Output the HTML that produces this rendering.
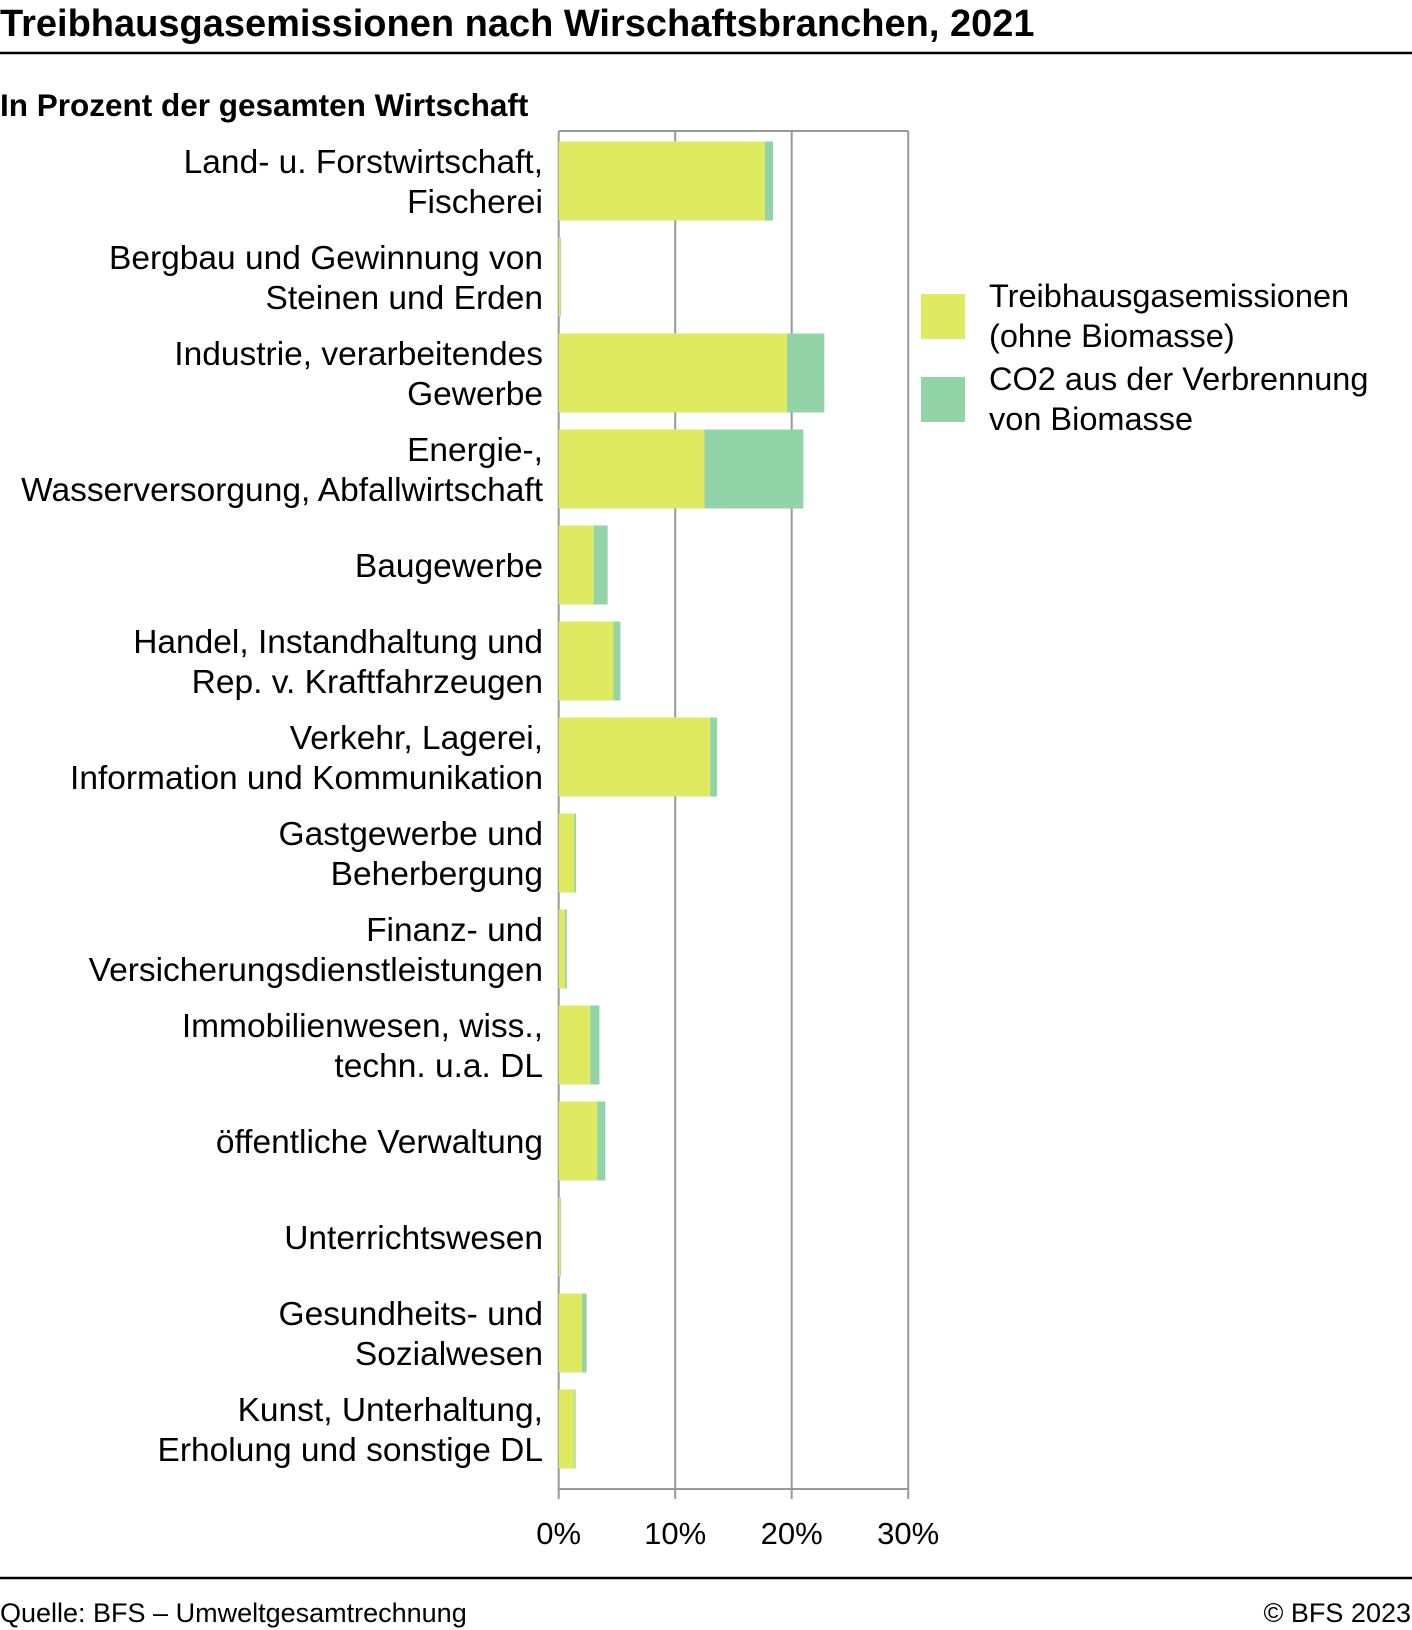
<!DOCTYPE html>
<html><head><meta charset="utf-8"><style>
body{margin:0;background:#fff}
svg{display:block;font-family:"Liberation Sans",sans-serif}
</style></head><body>
<svg id="chart" width="1412" height="1630" viewBox="0 0 1412 1630">
<text x="0" y="36" font-size="38" font-weight="bold" fill="#000">Treibhausgasemissionen nach Wirschaftsbranchen, 2021</text>
<line x1="0" y1="53" x2="1412" y2="53" stroke="#000" stroke-width="2.5"/>
<text x="0" y="116" font-size="31.5" font-weight="bold" fill="#000">In Prozent der gesamten Wirtschaft</text>
<g id="grid"></g><g id="bars"></g><g id="labels"></g>
<rect x="921" y="294" width="44" height="45" fill="#e0ea60"/>
<text x="989" y="307" font-size="32.5"><tspan x="989">Treibhausgasemissionen</tspan><tspan x="989" dy="40">(ohne Biomasse)</tspan></text>
<rect x="921" y="377" width="44" height="45" fill="#93d3a8"/>
<text x="989" y="390" font-size="32.5"><tspan x="989">CO2 aus der Verbrennung</tspan><tspan x="989" dy="40">von Biomasse</tspan></text>
<line x1="0" y1="1578" x2="1412" y2="1578" stroke="#000" stroke-width="2.5"/>
<text x="0" y="1622" font-size="27">Quelle: BFS – Umweltgesamtrechnung</text>
<text x="1411" y="1622" font-size="27" text-anchor="end">© BFS 2023</text>
</svg>
<script>
const categories=[["Land- u. Forstwirtschaft,","Fischerei"],["Bergbau und Gewinnung von","Steinen und Erden"],["Industrie, verarbeitendes","Gewerbe"],["Energie-,","Wasserversorgung, Abfallwirtschaft"],["Baugewerbe"],["Handel, Instandhaltung und","Rep. v. Kraftfahrzeugen"],["Verkehr, Lagerei,","Information und Kommunikation"],["Gastgewerbe und","Beherbergung"],["Finanz- und","Versicherungsdienstleistungen"],["Immobilienwesen, wiss.,","techn. u.a. DL"],["öffentliche Verwaltung"],["Unterrichtswesen"],["Gesundheits- und","Sozialwesen"],["Kunst, Unterhaltung,","Erholung und sonstige DL"]];
const ghg=[17.7,0.15,19.6,12.5,3.0,4.7,13.0,1.35,0.55,2.7,3.3,0.15,2.0,1.35];
const biomass=[0.7,0.05,3.2,8.5,1.2,0.6,0.6,0.15,0.15,0.8,0.7,0.05,0.4,0.1];
const ticks=[0,10,20,30];
const tickLabels=["0%","10%","20%","30%"];
(function(){
const NS="http://www.w3.org/2000/svg";
const x0=558.7,pxPer=11.65,plotTop=133,step=96,barH=79,plotBottom=1489;
const xs=v=>x0+v*pxPer;
const yc=i=>plotTop+step*i+step/2;
function mk(t,a,p){const e=document.createElementNS(NS,t);for(const k in a)e.setAttribute(k,a[k]);p.appendChild(e);return e;}
const grid=document.getElementById('grid'),bars=document.getElementById('bars'),labels=document.getElementById('labels');
ticks.forEach((t,i)=>{
 const l=mk('line',{x1:xs(t),x2:xs(t),y1:131,y2:plotBottom+10,stroke:'#999','stroke-width':2},grid);
 
 
 const tx=mk('text',{x:xs(t),y:1544,'font-size':31,'text-anchor':'middle'},grid);
 tx.textContent=tickLabels[i];
 
 
});
const tl=mk('line',{x1:x0,x2:xs(30),y1:131,y2:131,stroke:'#999','stroke-width':2},grid);


const bl=mk('line',{x1:x0,x2:xs(30),y1:plotBottom,y2:plotBottom,stroke:'#999','stroke-width':2},grid);


categories.forEach((c,i)=>{
 const y=yc(i)-barH/2;
 const r1=mk('rect',{x:xs(0),y:y,width:ghg[i]*pxPer,height:barH,fill:'#e0ea60'},bars);
 
 
 const r2=mk('rect',{x:xs(ghg[i]),y:y,width:biomass[i]*pxPer,height:barH,fill:'#93d3a8'},bars);
 
 
 const n=c.length;
 c.forEach((s,j)=>{
  const t=mk('text',{x:543,y:yc(i)+12+(j-(n-1)/2)*40,'font-size':33.5,'text-anchor':'end'},labels);
  t.textContent=s;
  
  
 });
});
})();
</script>
</body></html>
